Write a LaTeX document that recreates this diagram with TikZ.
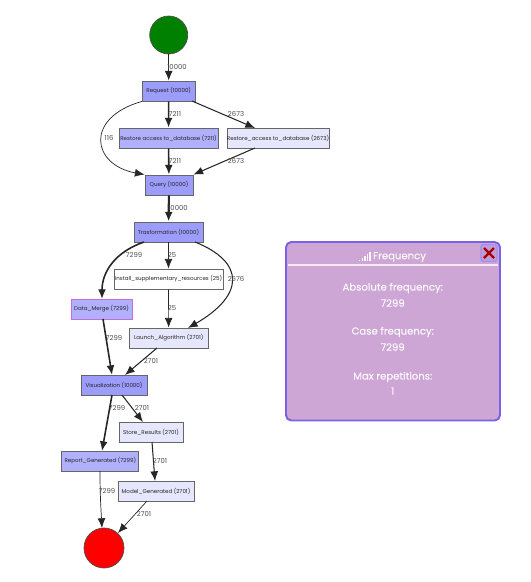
\documentclass[tikz,border=0pt]{standalone}
\usepackage{fontspec}
\setmainfont{Poppins}
\usepackage{tikz}
\usetikzlibrary{arrows.meta,positioning,calc}
\definecolor{actdark}{HTML}{9C9CFA}
\definecolor{actmid}{HTML}{B0B0FC}
\definecolor{actlight}{HTML}{E6E6FC}
\definecolor{panelfill}{HTML}{CDA6D5}
\definecolor{panelline}{HTML}{7A62E6}
\definecolor{mergeline}{HTML}{C46CD8}
\tikzset{
  act/.style={draw=black!60,line width=0.5pt,minimum height=20*0.02cm,inner sep=0pt,font=\fontsize{3.15}{4}\selectfont,text=black!85},
  flow/.style={-{Latex[length=5.5pt,width=4.5pt]},draw=black!85},
  lab/.style={font=\fontsize{3.9}{5}\selectfont,text=black!70,inner sep=0pt},
  paneltext/.style={font=\fontsize{5.75}{7}\selectfont\addfontfeatures{FakeBold=0.4},text=white!92!panelfill,inner sep=0pt}
}
\begin{document}
\begin{tikzpicture}[x=0.02cm,y=-0.02cm]
  \useasboundingbox (0,0) rectangle (531,582);

  \node[circle,draw=black!70,fill=green!50!black,minimum size=38*0.02cm,inner sep=0pt] (start) at (168.7,35) {};
  \node[circle,draw=black!70,fill=red,minimum size=40*0.02cm,inner sep=0pt] (stop) at (104,548) {};

  \node[act,fill=actdark,minimum width=53*0.02cm] (request) at (168.7,91) {Request (10000)};
  \node[act,fill=actmid,minimum width=99*0.02cm] (restoreA) at (168.5,138) {Restore access to\_database (7211)};
  \node[act,fill=actlight,minimum width=102*0.02cm] (restoreB) at (278,138) {Restore\_access to\_database (2673)};
  \node[act,fill=actdark,minimum width=48*0.02cm] (query) at (169,185) {Query (10000)};
  \node[act,fill=actdark,minimum width=69*0.02cm] (transform) at (168.5,232) {Trasformation (10000)};
  \node[act,fill=white,minimum width=109*0.02cm] (install) at (168.5,279) {Install\_supplementary\_resources (25)};
  \node[act,fill=actmid,draw=mergeline,minimum width=61*0.02cm] (merge) at (101.5,309) {Data\_Merge (7299)};
  \node[act,fill=actlight,minimum width=79*0.02cm] (launch) at (168.7,338) {Launch\_Algorithm (2701)};
  \node[act,fill=actdark,minimum width=66*0.02cm] (visual) at (114,385) {Visualization (10000)};
  \node[act,fill=actlight,minimum width=64*0.02cm] (store) at (151,432) {Store\_Results (2701)};
  \node[act,fill=actmid,minimum width=77*0.02cm] (report) at (100.3,461) {Report\_Generated (7299)};
  \node[act,fill=actlight,minimum width=76*0.02cm] (model) at (156,491) {Model\_Generated (2701)};

  \coordinate (reqout) at (192,101);
  \coordinate (resin) at (255,128);
  \coordinate (resout) at (255,148);
  \coordinate (tleft) at (144,242);
  \coordinate (mergein) at (102,299);
  \coordinate (tright) at (195,242);
  \coordinate (launchin) at (188,328);
  \coordinate (mergeout) at (103,319);
  \coordinate (visin) at (112,375);
  \coordinate (launchout) at (157,348);
  \coordinate (visinb) at (125,375);
  \coordinate (visout) at (112,395);
  \coordinate (repin) at (102,451);
  \coordinate (visoutb) at (122,395);
  \coordinate (storein) at (143,422);
  \coordinate (storeout) at (152,442);
  \coordinate (modelin) at (155,481);
  \coordinate (repout) at (100,471);
  \coordinate (stopa) at (102,528);
  \coordinate (modelout) at (147,501);
  \coordinate (stopb) at (118,533);

  \draw[flow,line width=0.5pt] (start) -- (request);
  \draw[flow,line width=0.9pt] (request) -- (restoreA);
  \draw[flow,line width=0.6pt] (reqout) -- (resin);
  \draw[flow,line width=0.9pt] (restoreA) -- (query);
  \draw[flow,line width=0.6pt] (resout) -- (query.north east);
  \draw[flow,line width=0.4pt] (request.south west) .. controls (84,118) and (92,165) .. (query.north west);
  \draw[flow,line width=1.2pt] (query) -- (transform);
  \draw[flow,line width=0.9pt] (tleft) .. controls (115,252) and (102,272) .. (mergein);
  \draw[flow,line width=0.4pt] (transform) -- (install);
  \draw[flow,line width=0.6pt] (tright) .. controls (245,262) and (245,295) .. (launchin);
  \draw[flow,line width=0.4pt] (install) -- (launch);
  \draw[flow,line width=0.9pt] (mergeout) -- (visin);
  \draw[flow,line width=0.6pt] (launchout) -- (visinb);
  \draw[flow,line width=0.9pt] (visout) -- (repin);
  \draw[flow,line width=0.6pt] (visoutb) -- (storein);
  \draw[flow,line width=0.6pt] (storeout) -- (modelin);
  \draw[flow,line width=0.4pt] (repout) .. controls (100,495) and (101,510) .. (stopa);
  \draw[flow,line width=0.4pt] (modelout) -- (stopb);

  \node[lab] (l1) at (177,67) {10000};
  \node[lab] (l2) at (175,114) {7211};
  \node[lab] (l3) at (236,114) {2673};
  \node[lab] (l4) at (109,138) {116};
  \node[lab] (l5) at (175,161) {7211};
  \node[lab] (l6) at (236,161) {2673};
  \node[lab] (l7) at (178,208) {10000};
  \node[lab] (l8) at (134,255) {7299};
  \node[lab] (l9) at (172,255) {25};
  \node[lab] (l10) at (236,279) {2676};
  \node[lab] (l11) at (172,308) {25};
  \node[lab] (l12) at (114,338) {7299};
  \node[lab] (l13) at (151,361) {2701};
  \node[lab] (l14) at (117,408) {7299};
  \node[lab] (l15) at (142,408) {2701};
  \node[lab] (l16) at (160,461) {2701};
  \node[lab] (l17) at (107,491) {7299};
  \node[lab] (l18) at (144,514) {2701};

  \draw[panelline,fill=panelfill,line width=1.1pt,rounded corners=3pt] (286,242) rectangle (500,420.5);
  \draw[white!75!panelfill,line width=0.6pt] (288,265) -- (498,265);
  \node[paneltext] (head) at (399.5,257) {Frequency};
  \foreach \x/\h in {359/1.5,361.6/3,364.2/5,366.8/7,369.4/9}
    \fill[white!92!panelfill] (\x,261) rectangle (\x+1.3,261-\h);
  \node[paneltext] (absname) at (392.7,288) {Absolute frequency:};
  \node[paneltext] (absval) at (392.7,303) {7299};
  \node[paneltext] (casename) at (392.7,332) {Case frequency:};
  \node[paneltext] (caseval) at (392.7,347) {7299};
  \node[paneltext] (maxname) at (392.7,377) {Max repetitions:};
  \node[paneltext] (maxval) at (392.7,391) {1};

  \draw[panelline!70!white,fill=panelfill!85!panelline,line width=0.8pt,rounded corners=1.5pt] (481,244.5) rectangle (497,261.5);
  \draw[red!65!black,line width=1.3pt] (484,248) -- (494,258) (494,248) -- (484,258);
\end{tikzpicture}
\end{document}
